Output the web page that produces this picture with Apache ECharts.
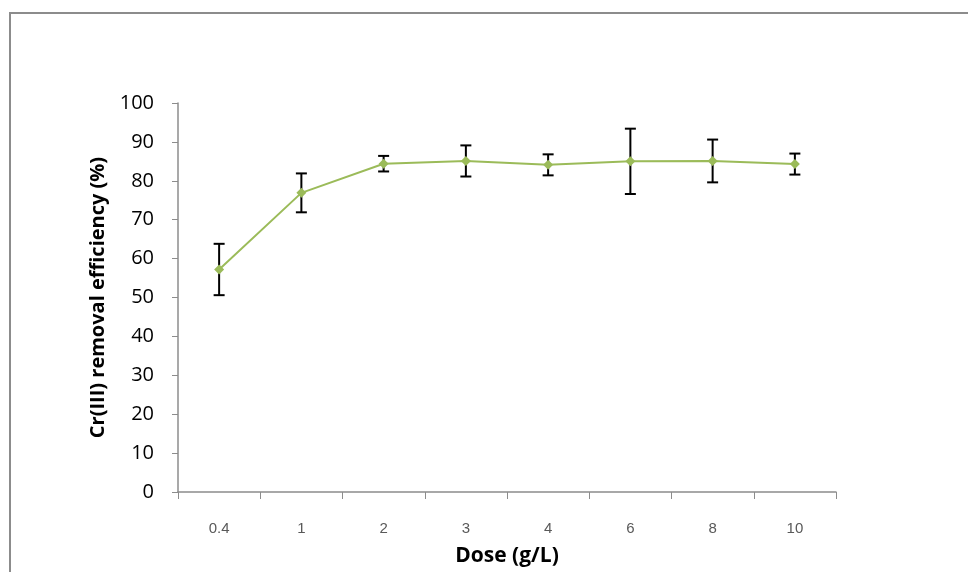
<!DOCTYPE html>
<html><head><meta charset="utf-8">
<script src="https://cdn.jsdelivr.net/npm/echarts@6/dist/echarts.min.js"></script>
<style>html,body{margin:0;padding:0;background:#fff}#c{width:968px;height:572px}</style>
</head><body><div id="c"></div>
<script>
const categories = ['0.4','1','2','3','4','6','8','10'];
const meanValues = [57.2, 76.9, 84.4, 85.1, 84.1, 85.0, 85.1, 84.3];
const sdValues   = [6.6, 5.0, 2.0, 4.0, 2.7, 8.4, 5.5, 2.7];
const yTicks = [0,10,20,30,40,50,60,70,80,90,100];

const errData = categories.map((c,i)=>[i, meanValues[i]-sdValues[i], meanValues[i]+sdValues[i]]);

const chart = echarts.init(document.getElementById('c'), null, {renderer:'canvas'});
chart.setOption({
  animation:false,
  backgroundColor:'#fff',
  graphic:[{type:'rect', shape:{x:10,y:13,width:1000,height:700}, style:{fill:'none', stroke:'#8c8c8c', lineWidth:2}, z:-1}],
  grid:{left:178, right:132, top:103, bottom:80, containLabel:false},
  xAxis:{
    type:'category', data:categories, boundaryGap:true,
    axisLine:{lineStyle:{color:'#8c8c8c', width:1.5}},
    axisTick:{show:true, alignWithLabel:false, length:7, lineStyle:{color:'#8c8c8c'}},
    axisLabel:{margin:29, color:'#595959', fontSize:15, fontFamily:'Liberation Sans'},
    name:'Dose (g/L)', nameLocation:'middle', nameGap:54,
    nameTextStyle:{fontFamily:'Open Sans', fontWeight:'bold', fontSize:21, color:'#000'}
  },
  yAxis:{
    type:'value', min:0, max:100, interval:10,
    axisLine:{show:true, lineStyle:{color:'#8c8c8c', width:1.5}},
    axisTick:{show:true, length:6, lineStyle:{color:'#8c8c8c'}},
    splitLine:{show:false},
    axisLabel:{margin:24, color:'#000', fontSize:20, fontFamily:'Open Sans',
      formatter:v=>yTicks.includes(v)?String(v):''},
    name:'Cr(III) removal efficiency (%)', nameLocation:'middle', nameGap:64, nameRotate:90,
    nameTextStyle:{fontFamily:'Open Sans', fontWeight:'bold', fontSize:20, color:'#000'}
  },
  series:[
    {
      type:'line', data:meanValues, symbol:'diamond', symbolSize:10,
      itemStyle:{color:'#9BBB59'}, lineStyle:{color:'#9BBB59', width:2}, z:3
    },
    {
      type:'custom', data:errData, z:2,
      renderItem:function(params, api){
        const x = api.value(0);
        const lo = api.coord([x, api.value(1)]);
        const hi = api.coord([x, api.value(2)]);
        const hw = 5.5;
        const st = {stroke:'#000', lineWidth:2};
        return {type:'group', children:[
          {type:'line', shape:{x1:lo[0],y1:lo[1],x2:hi[0],y2:hi[1]}, style:st},
          {type:'line', shape:{x1:lo[0]-hw,y1:lo[1],x2:lo[0]+hw,y2:lo[1]}, style:st},
          {type:'line', shape:{x1:hi[0]-hw,y1:hi[1],x2:hi[0]+hw,y2:hi[1]}, style:st}
        ]};
      }
    }
  ]
});
</script></body></html>
